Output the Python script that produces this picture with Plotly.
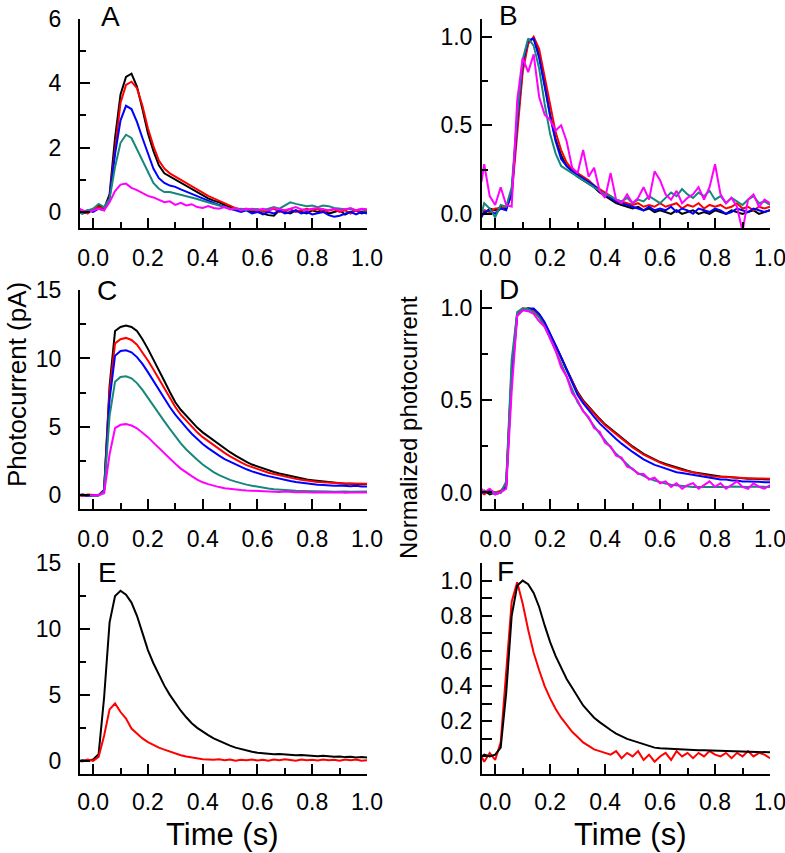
import plotly.graph_objects as go

# ---------------- data ----------------
time_s = [-0.05, -0.04, -0.02, 0.00,
          0.02, 0.04, 0.06, 0.08, 0.10, 0.12, 0.14, 0.16, 0.18, 0.20,
          0.22, 0.24, 0.26, 0.28, 0.30, 0.32, 0.34, 0.36, 0.38, 0.40,
          0.42, 0.44, 0.46, 0.48, 0.50, 0.52, 0.54, 0.56, 0.58, 0.60,
          0.62, 0.64, 0.66, 0.68, 0.70, 0.72, 0.74, 0.76, 0.78, 0.80,
          0.82, 0.84, 0.86, 0.88, 0.90, 0.92, 0.94, 0.96, 0.98, 1.00]

# Panel A (pA)
A_black = [0.05, -0.05, 0.0, 0.05,
           0.2, 0.1, 0.55, 2.3, 3.65, 4.2, 4.3, 3.9, 3.2, 2.45,
           1.9, 1.45, 1.2, 1.1, 1.0, 0.92, 0.8, 0.7, 0.6, 0.5,
           0.42, 0.35, 0.3, 0.22, 0.15, 0.1, 0.05, 0.08, 0.0, 0.05,
           -0.05, -0.1, -0.12, 0.05, 0.0, -0.05, 0.05, 0.0, -0.05, 0.05,
           0.0, 0.08, -0.05, 0.0, 0.05, -0.08, 0.0, 0.05, -0.05, 0.0]
A_red = [0.0, 0.05, -0.05, 0.1,
         0.15, 0.1, 0.45, 2.0, 3.4, 3.95, 4.05, 3.85, 3.3, 2.6,
         2.05, 1.6, 1.35, 1.2, 1.1, 1.0, 0.9, 0.8, 0.68, 0.58,
         0.5, 0.42, 0.35, 0.28, 0.2, 0.12, 0.08, 0.1, 0.05, 0.08,
         0.0, 0.05, 0.1, 0.0, 0.05, 0.08, 0.0, 0.05, 0.1, 0.05,
         0.1, 0.0, 0.05, 0.08, 0.0, 0.05, -0.05, 0.05, 0.0, 0.05]
A_blue = [-0.05, 0.0, 0.05, 0.0,
          0.1, 0.05, 0.45, 1.8, 2.85, 3.3, 3.2, 2.8, 2.3, 1.8,
          1.35, 1.05, 0.9, 0.82, 0.78, 0.7, 0.63, 0.56, 0.48, 0.4,
          0.34, 0.28, 0.22, 0.15, 0.1, 0.05, 0.0, 0.05, -0.05, 0.0,
          -0.08, 0.0, -0.05, 0.05, -0.05, 0.0, 0.05, -0.05, 0.0, -0.08,
          -0.05, 0.0, -0.1, -0.15, -0.12, -0.05, 0.0, -0.08, 0.0, -0.05]
A_teal = [0.0, -0.05, 0.05, 0.1,
          0.25, 0.15, 0.4, 1.4, 2.15, 2.4, 2.3, 1.95, 1.55, 1.2,
          0.9, 0.72, 0.62, 0.62, 0.58, 0.52, 0.48, 0.44, 0.4, 0.35,
          0.3, 0.26, 0.2, 0.15, 0.1, 0.08, 0.1, 0.05, 0.1, 0.08,
          0.05, 0.1, 0.15, 0.1, 0.2, 0.3, 0.25, 0.22, 0.18, 0.2,
          0.15, 0.2, 0.18, 0.12, 0.1, 0.08, 0.1, 0.05, 0.08, 0.05]
A_magenta = [0.1, 0.05, 0.0, 0.05,
             0.1, 0.05, 0.3, 0.65, 0.85, 0.88, 0.75, 0.68, 0.58, 0.5,
             0.45, 0.38, 0.3, 0.33, 0.22, 0.28, 0.2, 0.24, 0.15, 0.12,
             0.18, 0.12, 0.1, 0.15, 0.08, 0.12, 0.05, 0.1, 0.08, 0.05,
             0.1, 0.05, 0.12, 0.08, 0.05, 0.1, 0.15, 0.08, 0.05, 0.1,
             0.12, 0.08, 0.05, 0.1, 0.05, 0.08, 0.12, 0.05, 0.1, 0.08]

# Panel B (normalized)
B_black = [0.02, 0.0, 0.03, 0.02,
           0.04, 0.03, 0.12, 0.5, 0.82, 0.97, 0.99, 0.9, 0.73, 0.56,
           0.42, 0.33, 0.27, 0.24, 0.21, 0.19, 0.17, 0.15, 0.12, 0.1,
           0.08, 0.06, 0.05, 0.04, 0.03, 0.04, 0.02, 0.03, 0.01, 0.02,
           0.01, 0.0, 0.02, 0.0, 0.01, 0.02, 0.0, 0.01, 0.0, 0.02,
           0.01, 0.0, 0.02, 0.01, 0.0, 0.01, 0.02, 0.0, 0.01, 0.02]
B_red = [0.0, 0.02, 0.01, 0.03,
         0.03, 0.04, 0.1, 0.47, 0.8, 0.96, 1.0, 0.93, 0.77, 0.6,
         0.46, 0.36, 0.29, 0.25, 0.23, 0.21, 0.19, 0.16, 0.14, 0.12,
         0.1, 0.08, 0.07, 0.06, 0.05, 0.06, 0.04, 0.05, 0.04, 0.06,
         0.04, 0.05, 0.06, 0.03, 0.05, 0.04, 0.06, 0.03, 0.05, 0.04,
         0.05, 0.03, 0.04, 0.06, 0.03, 0.04, 0.02, 0.04, 0.03, 0.04]
B_blue = [-0.02, 0.01, 0.02, 0.0,
          0.03, 0.02, 0.12, 0.52, 0.85, 0.98, 0.99, 0.88, 0.72, 0.55,
          0.41, 0.31, 0.27, 0.24, 0.22, 0.2, 0.18, 0.16, 0.13, 0.11,
          0.09, 0.07, 0.06, 0.05, 0.04, 0.03, 0.02, 0.04, 0.02, 0.03,
          0.02, 0.04, 0.01, 0.03, 0.02, 0.0, 0.03, 0.02, 0.01, 0.03,
          0.02, 0.0, 0.01, 0.03, 0.02, 0.01, 0.03, 0.02, 0.01, 0.02]
B_teal = [0.0, 0.06, 0.03, -0.02,
          0.05, 0.04, 0.15, 0.55, 0.87, 0.99, 0.95, 0.82, 0.62, 0.45,
          0.34, 0.27, 0.25, 0.23, 0.21, 0.19, 0.17, 0.15, 0.13, 0.11,
          0.1, 0.08, 0.07, 0.09, 0.06, 0.08, 0.07, 0.1, 0.08, 0.06,
          0.09, 0.12, 0.1, 0.14, 0.11, 0.09, 0.12, 0.1, 0.13, 0.08,
          0.1, 0.06, 0.09, 0.07, 0.05, 0.08, 0.1, 0.06, 0.07, 0.05]
B_magenta = [0.18, 0.28, 0.1, 0.05,
             0.15, 0.05, 0.04, 0.64, 0.88, 0.8, 0.9, 0.66, 0.56, 0.53,
             0.47, 0.5, 0.41, 0.26, 0.23, 0.36, 0.21, 0.26, 0.13, 0.09,
             0.23, 0.08, 0.06, 0.11, 0.06, 0.09, 0.15, 0.08, 0.24, 0.19,
             0.11, 0.08, 0.13, 0.06, 0.09, 0.11, 0.15, 0.08, 0.15, 0.28,
             0.11, 0.06, 0.09, 0.04, -0.1, 0.08, 0.11, 0.04, 0.08, 0.06]

# Panel C (pA)
C_black = [0.0, 0.05, -0.05, 0.0,
           0.0, 0.4, 8.0, 12.0, 12.3, 12.4, 12.3, 12.0, 11.4, 10.7,
           9.95, 9.15, 8.35, 7.55, 6.8, 6.25, 5.8, 5.35, 4.95, 4.6,
           4.3, 4.0, 3.7, 3.4, 3.15, 2.9, 2.65, 2.45, 2.25, 2.1,
           1.95, 1.8, 1.7, 1.6, 1.5, 1.4, 1.3, 1.22, 1.15, 1.1,
           1.05, 1.0, 0.95, 0.92, 0.9, 0.85, 0.85, 0.82, 0.8, 0.82]
C_red = [0.0, -0.05, 0.05, 0.0,
         0.0, 0.4, 7.6, 11.1, 11.4, 11.5, 11.35, 11.0, 10.45, 9.85,
         9.2, 8.5, 7.8, 7.1, 6.45, 5.9, 5.45, 5.0, 4.6, 4.25,
         3.95, 3.65, 3.35, 3.1, 2.85, 2.6, 2.4, 2.2, 2.05, 1.9,
         1.78, 1.65, 1.55, 1.45, 1.36, 1.28, 1.2, 1.13, 1.07, 1.02,
         0.98, 0.95, 0.92, 0.9, 0.88, 0.87, 0.86, 0.86, 0.85, 0.85]
C_blue = [0.05, 0.0, -0.05, 0.0,
          0.0, 0.35, 7.0, 10.2, 10.55, 10.6, 10.45, 10.1, 9.6, 9.0,
          8.35, 7.7, 7.05, 6.45, 5.9, 5.4, 4.95, 4.5, 4.1, 3.75,
          3.45, 3.15, 2.9, 2.65, 2.45, 2.25, 2.05, 1.9, 1.75, 1.6,
          1.5, 1.4, 1.3, 1.2, 1.12, 1.05, 0.98, 0.92, 0.87, 0.82,
          0.78, 0.75, 0.72, 0.7, 0.72, 0.68, 0.66, 0.7, 0.64, 0.65]
C_teal = [0.0, 0.05, 0.0, -0.05,
          0.0, 0.3, 5.8, 8.3, 8.65, 8.7, 8.55, 8.2, 7.7, 7.1,
          6.6, 6.0, 5.4, 4.85, 4.3, 3.8, 3.35, 2.95, 2.6, 2.25,
          1.95, 1.7, 1.48, 1.3, 1.13, 1.0, 0.88, 0.78, 0.7, 0.62,
          0.55, 0.5, 0.45, 0.41, 0.38, 0.35, 0.33, 0.32, 0.3, 0.3,
          0.28, 0.28, 0.27, 0.26, 0.28, 0.27, 0.26, 0.28, 0.27, 0.28]
C_magenta = [0.0, 0.05, 0.0, 0.0,
             0.0, 0.15, 3.0, 4.9, 5.15, 5.2, 5.1, 4.9, 4.6, 4.25,
             3.85, 3.45, 3.05, 2.65, 2.3, 1.95, 1.65, 1.4, 1.15, 0.95,
             0.82, 0.7, 0.6, 0.52, 0.46, 0.42, 0.38, 0.35, 0.33, 0.3,
             0.28, 0.3, 0.26, 0.25, 0.28, 0.24, 0.22, 0.25, 0.22, 0.2,
             0.22, 0.2, 0.18, 0.2, 0.22, 0.18, 0.2, 0.18, 0.2, 0.2]

# Panel D (normalized)
D_black = [0.0, 0.01, -0.01, 0.0,
           0.0, 0.04, 0.65, 0.97, 0.995, 1.0, 0.99, 0.965, 0.92, 0.86,
           0.8, 0.735, 0.67, 0.605, 0.545, 0.5, 0.465, 0.43, 0.4, 0.37,
           0.345, 0.32, 0.295, 0.27, 0.25, 0.23, 0.21, 0.195, 0.18, 0.165,
           0.155, 0.145, 0.135, 0.125, 0.118, 0.11, 0.105, 0.1, 0.095, 0.09,
           0.087, 0.085, 0.082, 0.08, 0.078, 0.075, 0.074, 0.072, 0.07, 0.07]
D_red = [0.0, -0.01, 0.01, 0.0,
         0.01, 0.04, 0.68, 0.97, 1.0, 0.995, 0.985, 0.96, 0.915, 0.855,
         0.795, 0.73, 0.665, 0.6, 0.54, 0.495, 0.46, 0.425, 0.395, 0.365,
         0.34, 0.315, 0.29, 0.265, 0.245, 0.225, 0.205, 0.19, 0.175, 0.162,
         0.15, 0.14, 0.13, 0.122, 0.115, 0.108, 0.1, 0.095, 0.09, 0.087,
         0.085, 0.083, 0.08, 0.08, 0.078, 0.077, 0.076, 0.076, 0.075, 0.075]
D_blue = [0.0, 0.0, 0.01, -0.01,
          0.0, 0.03, 0.62, 0.96, 0.99, 1.0, 1.0, 0.97, 0.925, 0.865,
          0.8, 0.735, 0.665, 0.595, 0.53, 0.485, 0.445, 0.41, 0.375, 0.345,
          0.315, 0.29, 0.265, 0.24, 0.22, 0.2, 0.18, 0.165, 0.15, 0.14,
          0.13, 0.12, 0.11, 0.105, 0.1, 0.095, 0.09, 0.085, 0.08, 0.075,
          0.07, 0.07, 0.065, 0.065, 0.06, 0.06, 0.06, 0.058, 0.055, 0.055]
D_teal = [0.0, 0.01, 0.0, 0.0,
          0.0, 0.06, 0.72, 0.98, 1.0, 0.995, 0.98, 0.95, 0.9, 0.84,
          0.77, 0.7, 0.63, 0.56, 0.49, 0.445, 0.4, 0.36, 0.32, 0.28,
          0.245, 0.21, 0.18, 0.15, 0.125, 0.105, 0.09, 0.075, 0.065, 0.055,
          0.048, 0.042, 0.038, 0.035, 0.033, 0.03, 0.03, 0.028, 0.03, 0.03,
          0.028, 0.03, 0.032, 0.03, 0.028, 0.03, 0.032, 0.03, 0.03, 0.03]
D_magenta = [0.02, 0.0, 0.02, -0.01,
             0.0, 0.02, 0.55, 0.96, 0.99, 0.985, 0.97, 0.93, 0.9, 0.83,
             0.77, 0.68, 0.63, 0.54, 0.5, 0.44, 0.41, 0.35, 0.33, 0.27,
             0.25, 0.2, 0.19, 0.14, 0.13, 0.1, 0.1, 0.07, 0.08, 0.05,
             0.06, 0.03, 0.05, 0.02, 0.04, 0.05, 0.02, 0.04, 0.06, 0.03,
             0.05, 0.02, 0.04, 0.06, 0.03, 0.02, 0.05, 0.03, 0.02, 0.04]

# Panel E (pA)
E_black = [0.0, 0.05, 0.0, 0.1,
           0.5, 4.8, 10.5, 12.5, 12.9, 12.6, 12.0, 11.0, 9.7, 8.4,
           7.4, 6.5, 5.7, 5.0, 4.4, 3.8, 3.3, 2.85, 2.5, 2.2,
           1.95, 1.7, 1.5, 1.3, 1.15, 1.0, 0.88, 0.78, 0.68, 0.62,
           0.58, 0.55, 0.5, 0.52, 0.48, 0.45, 0.42, 0.45, 0.4, 0.38,
           0.35, 0.38, 0.32, 0.3, 0.33, 0.28, 0.3, 0.26, 0.28, 0.25]
E_red = [0.0, -0.05, 0.1, 0.0,
         0.3, 1.9, 3.9, 4.35, 3.7, 3.2, 2.45, 2.05, 1.7, 1.42,
         1.2, 1.0, 0.85, 0.7, 0.55, 0.42, 0.32, 0.25, 0.15, 0.12,
         0.1, 0.08, 0.12, 0.05, 0.1, 0.0, 0.08, 0.05, 0.1, 0.02,
         0.08, 0.0, 0.1, 0.05, 0.12, 0.08, 0.0, 0.1, 0.05, 0.08,
         0.02, 0.1, 0.05, 0.08, 0.0, 0.1, 0.05, 0.1, 0.0, 0.05]

# Panel F (normalized)
F_black = [0.0, 0.01, 0.0, 0.01,
           0.05, 0.36, 0.8, 0.97, 1.0, 0.98, 0.93, 0.85, 0.745, 0.65,
           0.57, 0.5, 0.44, 0.39, 0.34, 0.29, 0.255, 0.22, 0.195, 0.17,
           0.15, 0.13, 0.115, 0.1, 0.09, 0.08, 0.068, 0.06, 0.05, 0.046,
           0.044, 0.042, 0.04, 0.04, 0.038, 0.036, 0.035, 0.035, 0.034, 0.033,
           0.032, 0.03, 0.03, 0.029, 0.028, 0.027, 0.026, 0.025, 0.024, 0.023]
F_red = [0.0, -0.03, 0.02, -0.02,
         0.08, 0.48, 0.88, 0.99, 0.87, 0.72, 0.59, 0.49, 0.4, 0.33,
         0.27, 0.22, 0.18, 0.14, 0.11, 0.08, 0.06, 0.04, 0.03, 0.02,
         0.01, 0.03, -0.01, 0.02, 0.0, 0.03, -0.02, 0.01, -0.03, 0.0,
         0.02, -0.02, 0.03, 0.0, 0.02, -0.01, 0.02, 0.0, 0.03, 0.01,
         0.0, 0.02, -0.01, 0.02, 0.0, 0.03, 0.0, 0.02, 0.01, -0.01]

x_tick_values = [0.0, 0.2, 0.4, 0.6, 0.8, 1.0]
panel_letters = ["A", "B", "C", "D", "E", "F"]

# ---------------- styling ----------------
BLACK = "#000000"
RED = "#ff0000"
BLUE = "#0000ff"
TEAL = "#17877d"
MAGENTA = "#ff00ff"
FONT = "Liberation Sans, Arial, sans-serif"

W, H = 785, 853


def fx(px):
    return px / W


def fy(px):
    return 1 - px / H


# panel geometry in pixels: (left, right, top, bottom)
geom = {
    1: (80, 367, 19, 228),
    2: (482, 770, 19, 228),
    3: (80, 367, 290, 509),
    4: (482, 770, 290, 509),
    5: (80, 367, 563, 774),
    6: (482, 770, 563, 774),
}
yspec = {
    1: dict(range=[-0.5, 6], dtick=2, minor=1, fmt="d"),
    2: dict(range=[-0.08, 1.1], dtick=0.5, minor=0.25, fmt=".1f"),
    3: dict(range=[-1, 15], dtick=5, minor=2.5, fmt="d"),
    4: dict(range=[-0.09, 1.1], dtick=0.5, minor=0.25, fmt=".1f"),
    5: dict(range=[-1, 15], dtick=5, minor=2.5, fmt="d"),
    6: dict(range=[-0.1, 1.1], dtick=0.2, minor=0.1, fmt=".1f"),
}

series = {
    1: [(A_black, BLACK), (A_red, RED), (A_blue, BLUE), (A_teal, TEAL), (A_magenta, MAGENTA)],
    2: [(B_black, BLACK), (B_red, RED), (B_blue, BLUE), (B_teal, TEAL), (B_magenta, MAGENTA)],
    3: [(C_black, BLACK), (C_red, RED), (C_blue, BLUE), (C_teal, TEAL), (C_magenta, MAGENTA)],
    4: [(D_black, BLACK), (D_red, RED), (D_blue, BLUE), (D_teal, TEAL), (D_magenta, MAGENTA)],
    5: [(E_black, BLACK), (E_red, RED)],
    6: [(F_red, RED), (F_black, BLACK)],
}

fig = go.Figure()
layout = dict(
    width=W, height=H,
    margin=dict(l=0, r=0, t=0, b=0),
    paper_bgcolor="white", plot_bgcolor="white",
    showlegend=False,
    font=dict(family=FONT, color="black"),
)

for i in range(1, 7):
    xs = "" if i == 1 else str(i)
    for vals, col in series[i]:
        fig.add_trace(go.Scatter(x=time_s, y=vals, mode="lines",
                                 line=dict(color=col, width=2),
                                 xaxis="x" + xs, yaxis="y" + xs,
                                 hoverinfo="skip"))
    l, r, t, b = geom[i]
    left_col = (i % 2 == 1)
    layout["xaxis" + xs] = dict(
        domain=[fx(l), fx(r)], anchor="y" + xs,
        range=[-0.048, 1.0], tickvals=x_tick_values, tickformat=".1f",
        showline=True, linecolor="black", linewidth=2,
        ticks="inside", ticklen=10, tickwidth=2, tickcolor="black",
        minor=dict(ticks="inside", ticklen=6, tickwidth=2, tickcolor="black",
                   dtick=0.1, tick0=0, showgrid=False),
        showgrid=False, zeroline=False, automargin=False,
        tickfont=dict(family=FONT, size=23, color="black"),
        ticklabelstandoff=(6 if i >= 5 else 8), ticklabeloverflow="allow", fixedrange=True,
    )
    ys = yspec[i]
    layout["yaxis" + xs] = dict(
        domain=[fy(b), fy(t)], anchor="x" + xs,
        range=ys["range"], tick0=0, dtick=ys["dtick"], tickformat=ys["fmt"],
        showline=True, linecolor="black", linewidth=2,
        ticks="inside", ticklen=10, tickwidth=2, tickcolor="black",
        minor=dict(ticks="inside", ticklen=(10 if i == 6 else 6), tickwidth=2,
                   tickcolor="black", dtick=ys["minor"], tick0=0, showgrid=False),
        showgrid=False, zeroline=False, automargin=False,
        tickfont=dict(family=FONT, size=23, color="black"),
        ticklabelstandoff=(12 if left_col else 3), ticklabeloverflow="allow",
        fixedrange=True,
    )

letter_pos = {1: (110, 17), 2: (508, 16), 3: (107, 290), 4: (509, 289), 5: (107, 572), 6: (505, 571)}
annotations = []
for i in range(1, 7):
    px, py = letter_pos[i]
    annotations.append(dict(text=panel_letters[i - 1], x=fx(px), y=fy(py), xref="paper", yref="paper",
                            xanchor="center", yanchor="middle", showarrow=False,
                            font=dict(family=FONT, size=28, color="black")))

annotations.append(dict(text="Photocurrent (pA)", textangle=-90, x=fx(17), y=fy(385),
                        xref="paper", yref="paper", xanchor="center", yanchor="middle",
                        showarrow=False, font=dict(family=FONT, size=26, color="black")))
annotations.append(dict(text="Normalized photocurrent", textangle=-90, x=fx(408), y=fy(428),
                        xref="paper", yref="paper", xanchor="center", yanchor="middle",
                        showarrow=False, font=dict(family=FONT, size=24, color="black")))
for cx in (222, 630):
    annotations.append(dict(text="Time (s)", x=fx(cx), y=0, xref="paper", yref="paper",
                            xanchor="center", yanchor="bottom", showarrow=False,
                            borderpad=0,
                            font=dict(family=FONT, size=31, color="black")))

layout["annotations"] = annotations
fig.update_layout(**layout)
fig.write_html("out.html", config={"displayModeBar": False},
               post_script="document.body.style.margin='0';document.body.style.padding='0';")
